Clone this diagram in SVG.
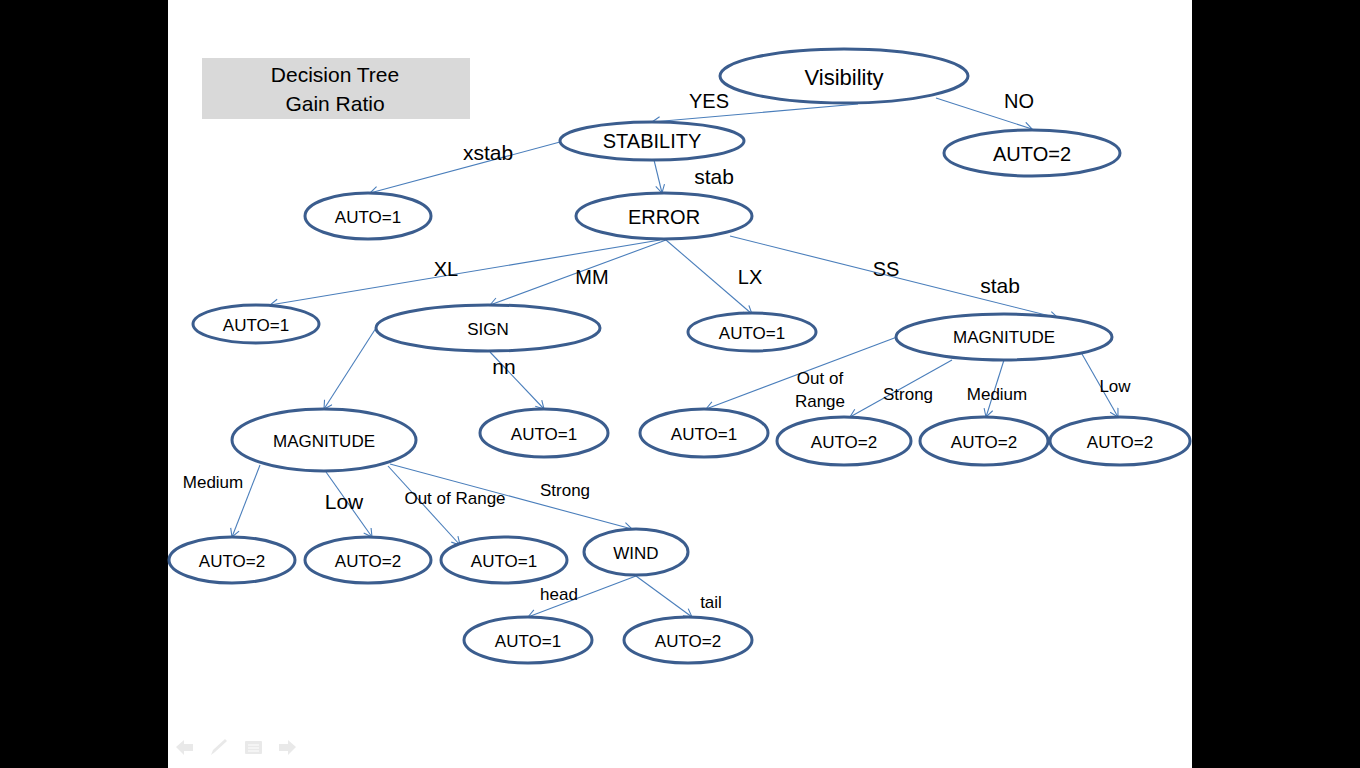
<svg xmlns="http://www.w3.org/2000/svg" width="1360" height="768" viewBox="0 0 1360 768">
<defs>
<style>
.node ellipse{fill:#fff;stroke:#3b5d8e;stroke-width:3}
.node text{font-family:"Liberation Sans",Arial,sans-serif;fill:#000;text-anchor:middle;dominant-baseline:central}
.s{font-size:17px}
.m{font-size:20px}
.l{font-size:22px}
.conn line{stroke:#4a7ebb;stroke-width:1.1;marker-end:url(#arr)}
.lbl text{font-family:"Liberation Sans",Arial,sans-serif;fill:#000;text-anchor:middle;dominant-baseline:central}
.nav{fill:#e9e9e9}
</style>
<marker id="arr" markerUnits="userSpaceOnUse" markerWidth="12" markerHeight="12" refX="9" refY="5" orient="auto">
<path d="M1,0.5 L9,5 L1,9.5" fill="none" stroke="#4a7ebb" stroke-width="1.1"/>
</marker>
</defs>
<rect x="0" y="0" width="1360" height="768" fill="#fff"/>
<rect x="0" y="0" width="168" height="768" fill="#000"/>
<rect x="1192" y="0" width="168" height="768" fill="#000"/>

<g id="title">
<rect x="202" y="58" width="268" height="61" fill="#d9d9d9"/>
<text x="335" y="74" font-family="Liberation Sans,Arial,sans-serif" font-size="21" text-anchor="middle" dominant-baseline="central">Decision Tree</text>
<text x="335" y="103" font-family="Liberation Sans,Arial,sans-serif" font-size="21" text-anchor="middle" dominant-baseline="central">Gain Ratio</text>
</g>

<g id="connectors" class="conn">
<line x1="858" y1="104" x2="652" y2="122"/>
<line x1="936" y1="98" x2="1032" y2="129"/>
<line x1="560" y1="142" x2="370" y2="193"/>
<line x1="654" y1="160" x2="662" y2="193"/>
<line x1="660" y1="240" x2="270" y2="305"/>
<line x1="666" y1="240" x2="490" y2="305"/>
<line x1="666" y1="240" x2="752" y2="314"/>
<line x1="730" y1="236" x2="1058" y2="318"/>
<line x1="376" y1="328" x2="324" y2="409"/>
<line x1="490" y1="352" x2="544" y2="409"/>
<line x1="897" y1="337" x2="706" y2="409"/>
<line x1="952" y1="360" x2="850" y2="417"/>
<line x1="1004" y1="360" x2="986" y2="417"/>
<line x1="1082" y1="354" x2="1118" y2="417"/>
<line x1="260" y1="465" x2="232" y2="537"/>
<line x1="326" y1="472" x2="372" y2="537"/>
<line x1="388" y1="466" x2="460" y2="545"/>
<line x1="390" y1="464" x2="632" y2="529"/>
<line x1="636" y1="576" x2="528" y2="617"/>
<line x1="636" y1="576" x2="692" y2="617"/>
</g>

<g id="labels" class="lbl">
<text x="709" y="101" font-size="20">YES</text>
<text x="1019" y="101" font-size="20">NO</text>
<text x="488" y="152" font-size="21">xstab</text>
<text x="714" y="176" font-size="21">stab</text>
<text x="446" y="269" font-size="20">XL</text>
<text x="592" y="277" font-size="20">MM</text>
<text x="750" y="277" font-size="20">LX</text>
<text x="886" y="269" font-size="20">SS</text>
<text x="1000" y="285" font-size="21">stab</text>
<text x="504" y="366" font-size="21">nn</text>
<text x="820" y="378" font-size="17">Out of</text>
<text x="820" y="401" font-size="17">Range</text>
<text x="908" y="394" font-size="17">Strong</text>
<text x="997" y="394" font-size="17">Medium</text>
<text x="1115" y="386" font-size="17">Low</text>
<text x="213" y="482" font-size="17">Medium</text>
<text x="344" y="501" font-size="21">Low</text>
<text x="455" y="498" font-size="17">Out of Range</text>
<text x="565" y="490" font-size="17">Strong</text>
<text x="559" y="594" font-size="17">head</text>
<text x="711" y="602" font-size="17">tail</text>
</g>

<g id="n-visibility" class="node"><ellipse cx="844" cy="76" rx="124" ry="27"/><text x="844" y="77" class="l">Visibility</text></g>
<g id="n-auto2-no" class="node"><ellipse cx="1032" cy="153" rx="88" ry="23"/><text x="1032" y="154" class="m">AUTO=2</text></g>
<g id="n-stability" class="node"><ellipse cx="652" cy="141" rx="92" ry="19"/><text x="652" y="141" class="m">STABILITY</text></g>
<g id="n-auto1-xstab" class="node"><ellipse cx="368" cy="216" rx="63" ry="23"/><text x="368" y="217" class="s">AUTO=1</text></g>
<g id="n-error" class="node"><ellipse cx="664" cy="216" rx="88" ry="23"/><text x="664" y="217" class="m">ERROR</text></g>
<g id="n-auto1-xl" class="node"><ellipse cx="256" cy="324" rx="63" ry="19"/><text x="256" y="325" class="s">AUTO=1</text></g>
<g id="n-sign" class="node"><ellipse cx="488" cy="328" rx="112" ry="23"/><text x="488" y="329" class="s">SIGN</text></g>
<g id="n-auto1-lx" class="node"><ellipse cx="752" cy="332" rx="64" ry="19"/><text x="752" y="333" class="s">AUTO=1</text></g>
<g id="n-magnitude-r" class="node"><ellipse cx="1004" cy="337" rx="108" ry="23"/><text x="1004" y="337" class="s">MAGNITUDE</text></g>
<g id="n-magnitude-l" class="node"><ellipse cx="324" cy="440" rx="92" ry="31"/><text x="324" y="441" class="s">MAGNITUDE</text></g>
<g id="n-auto1-nn" class="node"><ellipse cx="544" cy="433" rx="64" ry="24"/><text x="544" y="434" class="s">AUTO=1</text></g>
<g id="n-auto1-oor-r" class="node"><ellipse cx="704" cy="433" rx="64" ry="24"/><text x="704" y="434" class="s">AUTO=1</text></g>
<g id="n-auto2-strong-r" class="node"><ellipse cx="844" cy="441" rx="67" ry="24"/><text x="844" y="442" class="s">AUTO=2</text></g>
<g id="n-auto2-medium-r" class="node"><ellipse cx="984" cy="441" rx="64" ry="24"/><text x="984" y="442" class="s">AUTO=2</text></g>
<g id="n-auto2-low-r" class="node"><ellipse cx="1120" cy="441" rx="70" ry="24"/><text x="1120" y="442" class="s">AUTO=2</text></g>
<g id="n-auto2-medium-l" class="node"><ellipse cx="232" cy="560" rx="63" ry="23"/><text x="232" y="561" class="s">AUTO=2</text></g>
<g id="n-auto2-low-l" class="node"><ellipse cx="368" cy="560" rx="63" ry="23"/><text x="368" y="561" class="s">AUTO=2</text></g>
<g id="n-auto1-oor-l" class="node"><ellipse cx="504" cy="560" rx="63" ry="23"/><text x="504" y="561" class="s">AUTO=1</text></g>
<g id="n-wind" class="node"><ellipse cx="636" cy="552" rx="52" ry="23"/><text x="636" y="553" class="s">WIND</text></g>
<g id="n-auto1-head" class="node"><ellipse cx="528" cy="640" rx="64" ry="23"/><text x="528" y="641" class="s">AUTO=1</text></g>
<g id="n-auto2-tail" class="node"><ellipse cx="688" cy="640" rx="64" ry="23"/><text x="688" y="641" class="s">AUTO=2</text></g>

<g id="nav">
<path class="nav" d="M176,747 L184,740 L184,744 L193,744 L193,751 L184,751 L184,755 Z"/>
<path class="nav" d="M211,755 L213,750 L225,739 L227,741 L215,752 Z"/>
<rect class="nav" x="245" y="741" width="17" height="13" rx="1"/>
<path d="M248,745 H259 M248,748 H259 M248,751 H259" stroke="#fff" stroke-width="1"/>
<path class="nav" d="M296,747 L288,740 L288,744 L279,744 L279,751 L288,751 L288,755 Z"/>
</g>
</svg>
